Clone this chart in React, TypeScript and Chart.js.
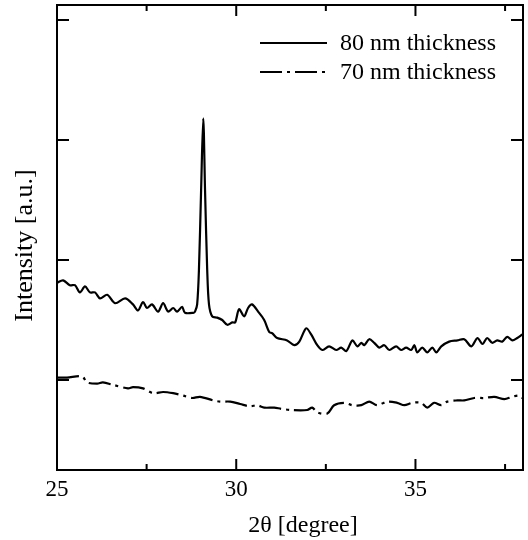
import React, { useEffect, useRef } from "react";
import { Chart, registerables } from "chart.js";
Chart.register(...registerables);

const seriesLabels = ["80 nm thickness", "70 nm thickness"];
const xTitle = "2θ [degree]";
const yTitle = "Intensity [a.u.]";

const twoTheta80 = [
  25.0, 25.17, 25.36, 25.5, 25.64, 25.78, 25.92, 26.06, 26.2, 26.4, 26.62, 26.9, 27.12, 27.26, 27.4, 27.51,
  27.65, 27.82, 27.96, 28.1, 28.24, 28.35, 28.49, 28.57, 28.8, 28.85, 28.91, 28.96, 29.02, 29.08, 29.13, 29.19,
  29.24, 29.33, 29.47, 29.61, 29.75, 29.89, 29.97, 30.08, 30.22, 30.33, 30.44, 30.61, 30.78, 30.92, 31.0, 31.14,
  31.42, 31.62, 31.76, 31.95, 32.09, 32.26, 32.4, 32.59, 32.79, 32.93, 33.07, 33.24, 33.38, 33.49, 33.57, 33.71,
  33.85, 33.99, 34.13, 34.27, 34.46, 34.6, 34.74, 34.88, 34.97, 35.05, 35.19, 35.33, 35.47, 35.58, 35.72, 35.94,
  36.17, 36.36, 36.56, 36.73, 36.87, 37.0, 37.14, 37.28, 37.42, 37.56, 37.7, 37.84, 37.98,
];
const intensity80 = [
  0.81, 0.83, 0.79, 0.79, 0.73, 0.78, 0.73, 0.73, 0.68, 0.71, 0.64, 0.68, 0.63, 0.58, 0.65, 0.6,
  0.63, 0.57, 0.64, 0.57, 0.6, 0.57, 0.61, 0.56, 0.56, 0.57, 0.63, 0.92, 1.58, 2.18, 1.58, 0.92,
  0.63, 0.53, 0.52, 0.5, 0.46, 0.48, 0.48, 0.59, 0.53, 0.6, 0.63, 0.57, 0.5, 0.4, 0.39, 0.35,
  0.33, 0.29, 0.32, 0.43, 0.38, 0.29, 0.25, 0.28, 0.25, 0.27, 0.24, 0.33, 0.28, 0.31, 0.29, 0.34,
  0.31, 0.27, 0.29, 0.25, 0.28, 0.25, 0.27, 0.25, 0.29, 0.23, 0.27, 0.23, 0.27, 0.23, 0.28, 0.32,
  0.33, 0.34, 0.28, 0.35, 0.3, 0.35, 0.31, 0.33, 0.32, 0.36, 0.33, 0.35, 0.38,
];

const twoTheta70 = [
  25.0, 25.28, 25.7, 25.84, 26.12, 26.28, 26.56, 26.98, 27.12, 27.4, 27.68, 27.96, 28.24, 28.52, 28.77, 28.99,
  29.36, 29.55, 29.83, 30.11, 30.39, 30.58, 30.78, 31.06, 31.25, 31.53, 31.98, 32.12, 32.26, 32.54, 32.73, 33.01,
  33.24, 33.49, 33.71, 33.93, 34.21, 34.49, 34.69, 34.91, 35.16, 35.33, 35.52, 35.72, 35.89, 36.17, 36.36, 36.64,
  36.92, 37.2, 37.48, 37.7, 37.9, 37.98,
];
const intensity70 = [
  0.02, 0.02, 0.03, -0.02, -0.03, -0.02, -0.04, -0.07, -0.06, -0.07, -0.11, -0.1, -0.11, -0.13, -0.15, -0.14,
  -0.17, -0.18, -0.18, -0.2, -0.22, -0.21, -0.23, -0.23, -0.24, -0.25, -0.25, -0.23, -0.27, -0.28, -0.21, -0.19,
  -0.21, -0.21, -0.18, -0.21, -0.18, -0.19, -0.21, -0.19, -0.19, -0.23, -0.19, -0.21, -0.18, -0.17, -0.17, -0.15,
  -0.15, -0.14, -0.16, -0.14, -0.13, -0.15,
];

const xMajorTicks = [25, 30, 35];
const xMinorTicks = [27.5, 32.5, 37.5];
const yTicks = [0, 1, 2, 3];
const xRange = [25, 38];
const yRange = [-0.75, 3.125];

const FONT = "'Liberation Serif', 'Times New Roman', serif";

const framePlugin = {
  id: "frameTicks",
  afterDraw(chart: any) {
    const { ctx, chartArea } = chart;
    const { left, right, top, bottom } = chartArea;
    const xs = chart.scales.x;
    const ys = chart.scales.y;
    ctx.save();
    ctx.strokeStyle = "#000";
    ctx.lineWidth = 2;
    ctx.strokeRect(left, top, right - left, bottom - top);
    ctx.beginPath();
    const tick = (x1: number, y1: number, x2: number, y2: number) => {
      ctx.moveTo(x1, y1);
      ctx.lineTo(x2, y2);
    };
    xMajorTicks.forEach((v) => {
      const p = xs.getPixelForValue(v);
      tick(p, bottom, p, bottom - 11);
      tick(p, top, p, top + 11);
    });
    xMinorTicks.forEach((v) => {
      const p = xs.getPixelForValue(v);
      tick(p, bottom, p, bottom - 6);
      tick(p, top, p, top + 6);
    });
    yTicks.forEach((v) => {
      const p = ys.getPixelForValue(v);
      tick(left, p, left + 12, p);
      tick(right, p, right - 12, p);
    });
    ctx.stroke();

    // legend
    const lx1 = right - 263;
    const lx2 = right - 196;
    const tx = right - 183;
    ctx.font = `24px ${FONT}`;
    ctx.fillStyle = "#000";
    ctx.textBaseline = "middle";
    ctx.textAlign = "left";
    chart.data.datasets.forEach((ds: any, i: number) => {
      const y = top + 38 + i * 29;
      ctx.beginPath();
      ctx.lineWidth = 2;
      ctx.setLineDash(ds.borderDash || []);
      ctx.moveTo(lx1, y);
      ctx.lineTo(lx2, y);
      ctx.stroke();
      ctx.setLineDash([]);
      ctx.fillText(ds.label, tx, y + 1);
    });

    // axis titles
    ctx.textAlign = "center";
    ctx.font = `24px ${FONT}`;
    ctx.fillText(xTitle, (left + right) / 2 + 13, bottom + 56);
    ctx.save();
    ctx.translate(left - 32, (top + bottom) / 2 + 8);
    ctx.rotate(-Math.PI / 2);
    ctx.font = `26px ${FONT}`;
    ctx.fillText(yTitle, 0, 0);
    ctx.restore();
    ctx.restore();
  },
};

export default function App() {
  const ref = useRef<HTMLCanvasElement>(null);
  useEffect(() => {
    document.body.style.margin = "0";
    const canvas = ref.current!;
    const chart = new Chart(canvas, {
      type: "line",
      data: {
        datasets: [
          {
            label: seriesLabels[0],
            data: twoTheta80.map((x, i) => ({ x, y: intensity80[i] })),
            borderColor: "#000",
            borderWidth: 2.2,
            pointRadius: 0,
            tension: 0.3,
            fill: false,
          },
          {
            label: seriesLabels[1],
            data: twoTheta70.map((x, i) => ({ x, y: intensity70[i] })),
            borderColor: "#000",
            borderWidth: 2.2,
            borderDash: [22, 5, 3, 5],
            pointRadius: 0,
            tension: 0.3,
            fill: false,
          },
        ],
      },
      options: {
        responsive: false,
        animation: false,
        layout: { padding: { top: 5, right: 5, left: 0, bottom: 0 } },
        plugins: { legend: { display: false }, tooltip: { enabled: false } },
        scales: {
          x: {
            type: "linear",
            min: xRange[0],
            max: xRange[1],
            grid: { display: false, drawTicks: false },
            border: { display: false },
            afterBuildTicks: (s: any) => {
              s.ticks = xMajorTicks.map((v) => ({ value: v }));
            },
            afterFit: (s: any) => {
              s.height = 70;
            },
            ticks: {
              color: "#000",
              padding: 6,
              font: { family: FONT, size: 23 },
              maxRotation: 0,
              callback: (v: any) => String(v),
            },
            title: { display: false },
          },
          y: {
            type: "linear",
            min: yRange[0],
            max: yRange[1],
            grid: { display: false, drawTicks: false },
            border: { display: false },
            afterBuildTicks: (s: any) => {
              s.ticks = yTicks.map((v) => ({ value: v }));
            },
            afterFit: (s: any) => {
              s.width = 57;
            },
            ticks: { display: false },
            title: { display: false },
          },
        },
      },
      plugins: [framePlugin],
    });
    return () => chart.destroy();
  }, []);
  return (
    <div style={{ width: 528, height: 540 }}>
      <canvas ref={ref} width={528} height={540} style={{ display: "block" }} />
    </div>
  );
}
